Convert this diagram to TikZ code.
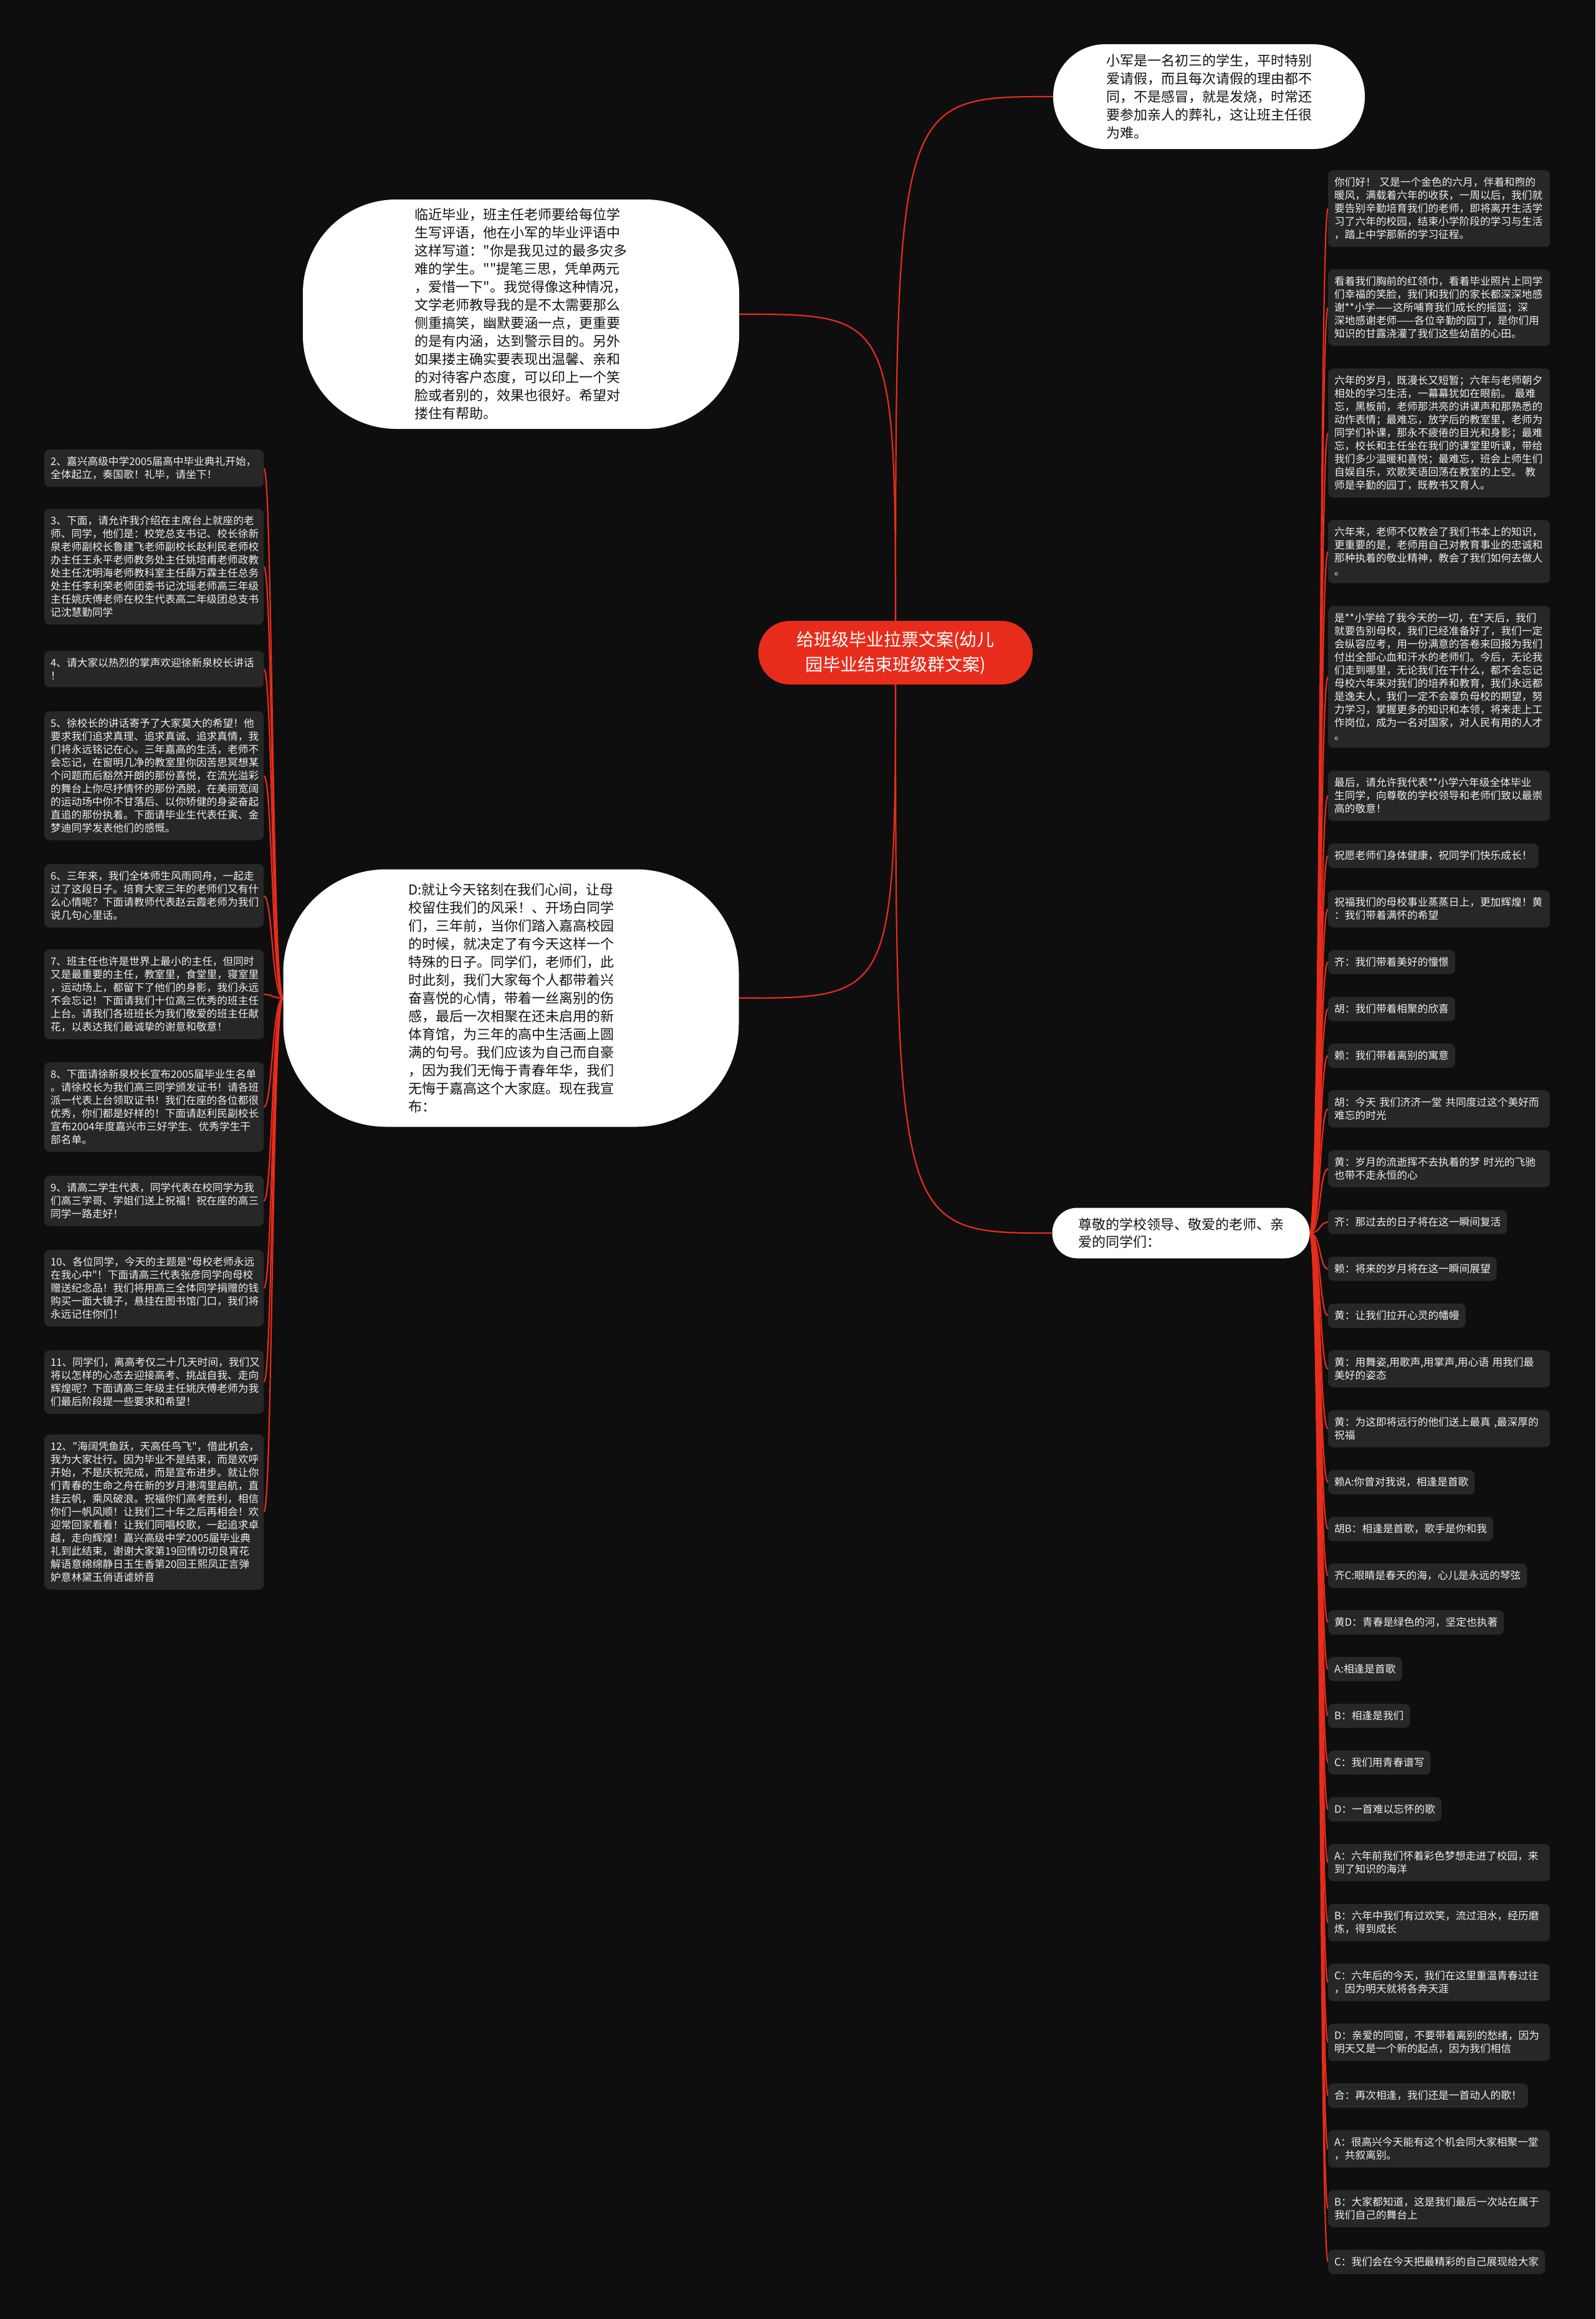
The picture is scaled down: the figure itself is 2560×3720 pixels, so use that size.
\documentclass[tikz,border=0pt]{standalone}
\usepackage{fontspec}
\newfontfamily\cjk{Noto Sans CJK SC}
\definecolor{bgc}{HTML}{0E0E0E}
\definecolor{boxc}{HTML}{272727}
\definecolor{redc}{RGB}{232,44,28}
\pgfdeclarelayer{bg}
\pgfsetlayers{bg,main}
\tikzset{
 conn/.style={draw=redc, line width=2.2pt},
 cbox/.style={fill=boxc, rounded corners=8pt, text=white!94!black, font=\cjk\fontsize{16.7}{21}\selectfont, inner xsep=10pt, inner ysep=11.5pt, align=left, anchor=north west},
 wbox/.style={cbox, text width=336pt},
 lbox/.style={cbox, text width=332pt},
 bubble/.style={fill=white, text=black!92, font=\cjk\fontsize{22}{29}\selectfont, align=left, inner sep=0pt},
 ctitle/.style={fill=redc, text=white, font=\cjk\fontsize{28}{40}\selectfont, align=center, rounded corners=50pt, minimum width=440pt, minimum height=102pt, inner sep=0pt}
}
\begin{document}
\begin{tikzpicture}[x=1pt,y=-1pt]
\useasboundingbox (0,0) rectangle (2560,3720);

% centre
\node[ctitle] (C) at (1437,1047) {给班级毕业拉票文案(幼儿\\园毕业结束班级群文案)};

% bubbles
\node[bubble, minimum width=500pt, minimum height=168pt, rounded corners=83pt] (TR) at (1940,155) {小军是一名初三的学生，平时特别\\爱请假，而且每次请假的理由都不\\同，不是感冒，就是发烧，时常还\\要参加亲人的葬礼，这让班主任很\\为难。};

\node[bubble, minimum width=700pt, minimum height=368pt, rounded corners=150pt] (TL) at (836,504) {临近毕业，班主任老师要给每位学\\生写评语，他在小军的毕业评语中\\这样写道："你是我见过的最多灾多\\难的学生。""提笔三思，凭单两元\\，爱惜一下"。我觉得像这种情况，\\文学老师教导我的是不太需要那么\\侧重搞笑，幽默要涵一点，更重要\\的是有内涵，达到警示目的。另外\\如果搂主确实要表现出温馨、亲和\\的对待客户态度，可以印上一个笑\\脸或者别的，效果也很好。希望对\\搂住有帮助。};

\node[bubble, minimum width=731pt, minimum height=413pt, rounded corners=165pt] (MB) at (820,1601) {D:就让今天铭刻在我们心间，让母\\校留住我们的风采！、开场白同学\\们，三年前，当你们踏入嘉高校园\\的时候，就决定了有今天这样一个\\特殊的日子。同学们，老师们，此\\时此刻，我们大家每个人都带着兴\\奋喜悦的心情，带着一丝离别的伤\\感，最后一次相聚在还未启用的新\\体育馆，为三年的高中生活画上圆\\满的句号。我们应该为自己而自豪\\，因为我们无悔于青春年华，我们\\无悔于嘉高这个大家庭。现在我宣\\布：};

\node[bubble, font=\cjk\fontsize{22}{28}\selectfont, minimum width=413pt, minimum height=81pt, rounded corners=40pt] (Z) at (1895,1978) {尊敬的学校领导、敬爱的老师、亲\\爱的同学们：};

% left column
\node[lbox] (L2) at (71,721) {2、嘉兴高级中学2005届高中毕业典礼开始，\\全体起立，奏国歌！礼毕，请坐下！};
\node[lbox] (L3) at (71,816) {3、下面，请允许我介绍在主席台上就座的老\\师、同学，他们是：校党总支书记、校长徐新\\泉老师副校长鲁建飞老师副校长赵利民老师校\\办主任王永平老师教务处主任姚培甫老师政教\\处主任沈明海老师教科室主任薛万霖主任总务\\处主任李利荣老师团委书记沈瑶老师高三年级\\主任姚庆傅老师在校生代表高二年级团总支书\\记沈慧勤同学};
\node[lbox] (L4) at (71,1044) {4、请大家以热烈的掌声欢迎徐新泉校长讲话\\！};
\node[lbox] (L5) at (71,1141) {5、徐校长的讲话寄予了大家莫大的希望！他\\要求我们追求真理、追求真诚、追求真情，我\\们将永远铭记在心。三年嘉高的生活，老师不\\会忘记，在窗明几净的教室里你因苦思冥想某\\个问题而后豁然开朗的那份喜悦，在流光溢彩\\的舞台上你尽抒情怀的那份洒脱，在美丽宽阔\\的运动场中你不甘落后、以你矫健的身姿奋起\\直追的那份执着。下面请毕业生代表任寅、金\\梦迪同学发表他们的感慨。};
\node[lbox] (L6) at (71,1386) {6、三年来，我们全体师生风雨同舟，一起走\\过了这段日子。培育大家三年的老师们又有什\\么心情呢？下面请教师代表赵云霞老师为我们\\说几句心里话。};
\node[lbox] (L7) at (71,1523) {7、班主任也许是世界上最小的主任，但同时\\又是最重要的主任，教室里，食堂里，寝室里\\，运动场上，都留下了他们的身影，我们永远\\不会忘记！下面请我们十位高三优秀的班主任\\上台。请我们各班班长为我们敬爱的班主任献\\花，以表达我们最诚挚的谢意和敬意！};
\node[lbox] (L8) at (71,1704) {8、下面请徐新泉校长宣布2005届毕业生名单\\。请徐校长为我们高三同学颁发证书！请各班\\派一代表上台领取证书！我们在座的各位都很\\优秀，你们都是好样的！下面请赵利民副校长\\宣布2004年度嘉兴市三好学生、优秀学生干\\部名单。};
\node[lbox] (L9) at (71,1886) {9、请高二学生代表，同学代表在校同学为我\\们高三学哥、学姐们送上祝福！祝在座的高三\\同学一路走好！};
\node[lbox] (L10) at (71,2005) {10、各位同学，今天的主题是"母校老师永远\\在我心中"！下面请高三代表张彦同学向母校\\赠送纪念品！我们将用高三全体同学捐赠的钱\\购买一面大镜子，悬挂在图书馆门口，我们将\\永远记住你们！};
\node[lbox] (L11) at (71,2166) {11、同学们，离高考仅二十几天时间，我们又\\将以怎样的心态去迎接高考、挑战自我、走向\\辉煌呢？下面请高三年级主任姚庆傅老师为我\\们最后阶段提一些要求和希望！};
\node[lbox] (L12) at (71,2301) {12、"海阔凭鱼跃，天高任鸟飞"，借此机会，\\我为大家壮行。因为毕业不是结束，而是欢呼\\开始，不是庆祝完成，而是宣布进步。就让你\\们青春的生命之舟在新的岁月港湾里启航，直\\挂云帆，乘风破浪。祝福你们高考胜利，相信\\你们一帆风顺！让我们二十年之后再相会！欢\\迎常回家看看！让我们同唱校歌，一起追求卓\\越，走向辉煌！嘉兴高级中学2005届毕业典\\礼到此结束，谢谢大家第19回情切切良宵花\\解语意绵绵静日玉生香第20回王熙凤正言弹\\妒意林黛玉俏语谑娇音};

% right column
\node[wbox] (R1) at (2131,273) {你们好！~又是一个金色的六月，伴着和煦的\\暖风，满载着六年的收获，一周以后，我们就\\要告别辛勤培育我们的老师，即将离开生活学\\习了六年的校园，结束小学阶段的学习与生活\\，踏上中学那新的学习征程。};
\node[wbox] (R2) at (2131,432) {看着我们胸前的红领巾，看着毕业照片上同学\\们幸福的笑脸，我们和我们的家长都深深地感\\谢**小学——这所哺育我们成长的摇篮；深\\深地感谢老师——各位辛勤的园丁，是你们用\\知识的甘露浇灌了我们这些幼苗的心田。};
\node[wbox] (R3) at (2131,591) {六年的岁月，既漫长又短暂；六年与老师朝夕\\相处的学习生活，一幕幕犹如在眼前。~最难\\忘，黑板前，老师那洪亮的讲课声和那熟悉的\\动作表情；最难忘，放学后的教室里，老师为\\同学们补课，那永不疲倦的目光和身影；最难\\忘，校长和主任坐在我们的课堂里听课，带给\\我们多少温暖和喜悦；最难忘，班会上师生们\\自娱自乐，欢歌笑语回荡在教室的上空。~教\\师是辛勤的园丁，既教书又育人。};
\node[wbox] (R4) at (2131,834) {六年来，老师不仅教会了我们书本上的知识，\\更重要的是，老师用自己对教育事业的忠诚和\\那种执着的敬业精神，教会了我们如何去做人\\。};
\node[wbox] (R5) at (2131,972) {是**小学给了我今天的一切，在*天后，我们\\就要告别母校，我们已经准备好了，我们一定\\会纵容应考，用一份满意的答卷来回报为我们\\付出全部心血和汗水的老师们。今后，无论我\\们走到哪里，无论我们在干什么，都不会忘记\\母校六年来对我们的培养和教育，我们永远都\\是逸夫人，我们一定不会辜负母校的期望，努\\力学习，掌握更多的知识和本领，将来走上工\\作岗位，成为一名对国家，对人民有用的人才\\。};
\node[wbox] (R6) at (2131,1236) {最后，请允许我代表**小学六年级全体毕业\\生同学，向尊敬的学校领导和老师们致以最崇\\高的敬意！};
\node[cbox] (R7) at (2131,1353) {祝愿老师们身体健康，祝同学们快乐成长！};
\node[wbox] (R8) at (2131,1428) {祝福我们的母校事业蒸蒸日上，更加辉煌！黄\\：我们带着满怀的希望};
\node[cbox] (R9) at (2131,1524) {齐：我们带着美好的憧憬};
\node[cbox] (R10) at (2131,1599) {胡：我们带着相聚的欣喜};
\node[cbox] (R11) at (2131,1674) {赖：我们带着离别的寓意};
\node[wbox] (R12) at (2131,1749) {胡：今天~我们济济一堂~共同度过这个美好而\\难忘的时光};
\node[wbox] (R13) at (2131,1845) {黄：岁月的流逝挥不去执着的梦~时光的飞驰\\也带不走永恒的心};
\node[cbox] (R14) at (2131,1941) {齐：那过去的日子将在这一瞬间复活};
\node[cbox] (R15) at (2131,2016) {赖：将来的岁月将在这一瞬间展望};
\node[cbox] (R16) at (2131,2091) {黄：让我们拉开心灵的幡幔};
\node[wbox] (R17) at (2131,2166) {黄：用舞姿,用歌声,用掌声,用心语~用我们最\\美好的姿态};
\node[wbox] (R18) at (2131,2262) {黄：为这即将远行的他们送上最真~,最深厚的\\祝福};
\node[cbox] (R19) at (2131,2358) {赖A:你曾对我说，相逢是首歌};
\node[cbox] (R20) at (2131,2433) {胡B：相逢是首歌，歌手是你和我};
\node[cbox] (R21) at (2131,2508) {齐C:眼睛是春天的海，心儿是永远的琴弦};
\node[cbox] (R22) at (2131,2583) {黄D：青春是绿色的河，坚定也执著};
\node[cbox] (R23) at (2131,2658) {A:相逢是首歌};
\node[cbox] (R24) at (2131,2733) {B：相逢是我们};
\node[cbox] (R25) at (2131,2808) {C：我们用青春谱写};
\node[cbox] (R26) at (2131,2883) {D：一首难以忘怀的歌};
\node[wbox] (R27) at (2131,2958) {A：六年前我们怀着彩色梦想走进了校园，来\\到了知识的海洋};
\node[wbox] (R28) at (2131,3054) {B：六年中我们有过欢笑，流过泪水，经历磨\\炼，得到成长};
\node[wbox] (R29) at (2131,3150) {C：六年后的今天，我们在这里重温青春过往\\，因为明天就将各奔天涯};
\node[wbox] (R30) at (2131,3246) {D：亲爱的同窗，不要带着离别的愁绪，因为\\明天又是一个新的起点，因为我们相信};
\node[cbox] (R31) at (2131,3342) {合：再次相逢，我们还是一首动人的歌！};
\node[wbox] (R32) at (2131,3417) {A：很高兴今天能有这个机会同大家相聚一堂\\，共叙离别。};
\node[wbox] (R33) at (2131,3513) {B：大家都知道，这是我们最后一次站在属于\\我们自己的舞台上};
\node[cbox] (R34) at (2131,3609) {C：我们会在今天把最精彩的自己展现给大家};

\begin{pgfonlayer}{bg}
\fill[bgc] (0,0) rectangle (2560,3720);
\draw[conn] (C.center) .. controls (C.center |- TR.west) .. (TR.west);
\draw[conn] (C.center) .. controls (C.center |- TL.east) .. (TL.east);
\draw[conn] (C.center) .. controls (C.center |- MB.east) .. (MB.east);
\draw[conn] (C.center) .. controls (C.center |- Z.west) .. (Z.west);
\foreach \i in {1,...,34} \draw[conn] (Z.east) .. controls +(18,0) and +(-14,0) .. (R\i.west);
\foreach \i in {2,...,12} \draw[conn] (MB.west) .. controls +(-18,0) and +(14,0) .. (L\i.east);
\end{pgfonlayer}
\end{tikzpicture}
\end{document}
